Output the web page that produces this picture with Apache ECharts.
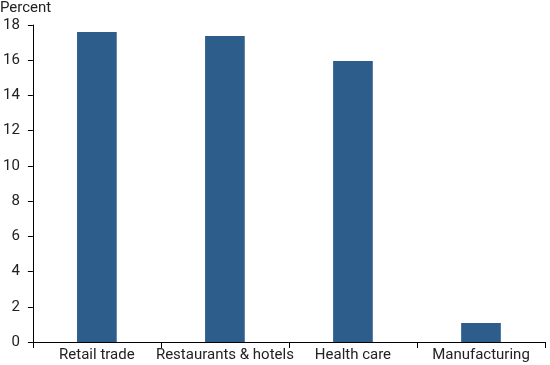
<!DOCTYPE html>
<html><head><meta charset="utf-8">
<script src="https://cdn.jsdelivr.net/npm/echarts@6/dist/echarts.min.js"></script>
<style>html,body{margin:0;padding:0;background:#fff}#c{width:550px;height:365px}</style>
</head><body><div id="c"></div>
<script>
const categories = ["Retail trade", "Restaurants & hotels", "Health care", "Manufacturing"];
const values = [17.6, 17.38, 15.95, 1.08];
const yTicks = [0, 2, 4, 6, 8, 10, 12, 14, 16, 18];

const chart = echarts.init(document.getElementById('c'));
chart.setOption({
  animation: false,
  textStyle: {fontFamily: 'Roboto'},
  grid: {left: 31, right: 5, top: 25, bottom: 23},
  graphic: [{type: 'text', left: 0, top: 1, style: {text: 'Percent', font: '15px Roboto', fill: '#222'}}],
  xAxis: {
    type: 'category', data: categories,
    axisLine: {lineStyle: {color: '#000', width: 1}},
    axisTick: {show: true, length: 6, lineStyle: {color: '#000'}},
    axisLabel: {color: '#222', fontSize: 15, margin: 6, interval: 0}
  },
  yAxis: {
    type: 'value', min: yTicks[0], max: yTicks[yTicks.length - 1], interval: 2,
    axisLine: {show: true, lineStyle: {color: '#000', width: 1}},
    axisTick: {show: true, length: 5, lineStyle: {color: '#000'}},
    axisLabel: {color: '#222', fontSize: 15, margin: 13},
    splitLine: {show: false}
  },
  series: [{type: 'bar', data: values, barWidth: '31%', itemStyle: {color: '#2d5d8b'}}]
});
</script></body></html>
